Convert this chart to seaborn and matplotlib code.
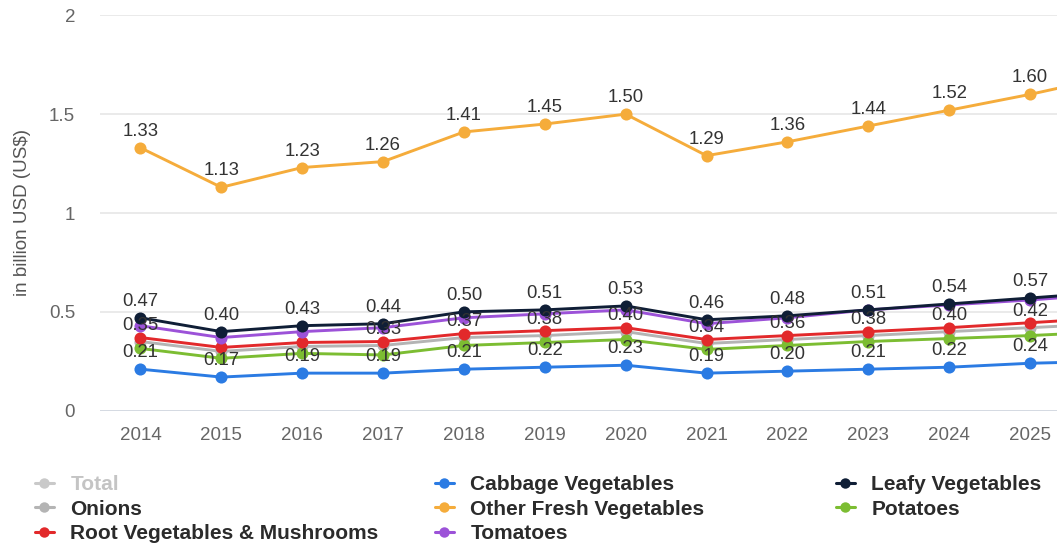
import matplotlib
matplotlib.use("Agg")
import matplotlib.pyplot as plt
import seaborn as sns
import pandas as pd
from matplotlib.lines import Line2D

# ---------------- data ----------------
years = [2014, 2015, 2016, 2017, 2018, 2019, 2020, 2021, 2022, 2023, 2024, 2025, 2026]
other_fresh = [1.33, 1.13, 1.23, 1.26, 1.41, 1.45, 1.50, 1.29, 1.36, 1.44, 1.52, 1.60, 1.69]
leafy = [0.47, 0.40, 0.43, 0.44, 0.50, 0.51, 0.53, 0.46, 0.48, 0.51, 0.54, 0.57, 0.60]
tomatoes = [0.43, 0.37, 0.40, 0.42, 0.47, 0.49, 0.51, 0.44, 0.47, 0.51, 0.535, 0.56, 0.59]
root_mush = [0.37, 0.32, 0.345, 0.35, 0.39, 0.405, 0.42, 0.36, 0.38, 0.40, 0.42, 0.445, 0.47]
onions = [0.35, 0.30, 0.325, 0.33, 0.37, 0.38, 0.40, 0.34, 0.36, 0.38, 0.40, 0.42, 0.44]
potatoes = [0.315, 0.265, 0.29, 0.282, 0.33, 0.345, 0.36, 0.31, 0.33, 0.35, 0.365, 0.38, 0.40]
cabbage = [0.21, 0.17, 0.19, 0.19, 0.21, 0.22, 0.23, 0.19, 0.20, 0.21, 0.22, 0.24, 0.25]

# which years carry a visible value label for Onions
onions_labelled = [True, False, False, True, True, True, True, True, True, True, True, True, True]

series_names = ["Total", "Cabbage Vegetables", "Leafy Vegetables", "Onions",
                "Other Fresh Vegetables", "Potatoes", "Root Vegetables & Mushrooms", "Tomatoes"]
y_ticks = [0, 0.5, 1, 1.5, 2]
y_tick_labels = ["0", "0.5", "1", "1.5", "2"]
y_title = "in billion USD (US$)"

colors = {
    "Total": "#c9c9c9",
    "Cabbage Vegetables": "#2b7be3",
    "Leafy Vegetables": "#0f1e36",
    "Onions": "#b4b4b4",
    "Other Fresh Vegetables": "#f5ac3b",
    "Potatoes": "#7cbd32",
    "Root Vegetables & Mushrooms": "#e2292b",
    "Tomatoes": "#9c52d8",
}

values = {
    "Cabbage Vegetables": cabbage,
    "Leafy Vegetables": leafy,
    "Onions": onions,
    "Other Fresh Vegetables": other_fresh,
    "Potatoes": potatoes,
    "Root Vegetables & Mushrooms": root_mush,
    "Tomatoes": tomatoes,
}

# drawing order (bottom to top)
draw_order = ["Onions", "Potatoes", "Cabbage Vegetables", "Root Vegetables & Mushrooms",
              "Tomatoes", "Leafy Vegetables", "Other Fresh Vegetables"]

labelled = {
    "Other Fresh Vegetables": [True] * len(years),
    "Leafy Vegetables": [True] * len(years),
    "Onions": onions_labelled,
    "Cabbage Vegetables": [True] * len(years),
}

rows = []
for name, vals in values.items():
    for yr, v in zip(years, vals):
        rows.append({"year": yr, "value": v, "series": name})
df = pd.DataFrame(rows)

# ---------------- plot ----------------
sns.set_theme(style="white")
plt.rcParams["font.family"] = ["Liberation Sans", "DejaVu Sans"]

fig = plt.figure(figsize=(10.57, 5.43), dpi=100)
ax = fig.add_axes([100 / 1057, 1 - 410.7 / 543, 1 - 100 / 1057, (410.7 - 15.3) / 543])

for name in draw_order:
    sub = df[df["series"] == name]
    sns.lineplot(data=sub, x="year", y="value", ax=ax, color=colors[name],
                 marker="o", markersize=8.7, markeredgewidth=0, linewidth=2.1,
                 legend=False, zorder=3)

ax.set_xticks(years)
ax.set_xticklabels([str(y) for y in years])
ax.set_yticks(y_ticks)
ax.set_yticklabels(y_tick_labels)
ax.set_xlim(2013.5, 2014 + (1057 - 140.7) / 80.85)
ax.set_ylim(0, 2)

for name, flags in labelled.items():
    for yr, v, f in zip(years, values[name], flags):
        if f:
            ax.annotate(f"{v:.2f}", xy=(yr, v), xytext=(0, 11.8), textcoords="offset points",
                        ha="center", va="center", fontsize=13.3, color="#333333",
                        zorder=5, annotation_clip=True)

ax.tick_params(axis="both", length=0, labelsize=13.5, labelcolor="#666666")
ax.tick_params(axis="y", pad=18)
ax.tick_params(axis="x", pad=12)
ax.set_xlabel("")
ax.set_ylabel(y_title, fontsize=13.5, color="#555555", labelpad=13)
ax.yaxis.grid(True, color="#e4e4e4", linewidth=1.1)
ax.xaxis.grid(False)
for s in ax.spines.values():
    s.set_visible(False)
ax.axhline(0, color="#d3d9e2", linewidth=1.3, zorder=1)

# ---------------- legend (three fixed-width columns) ----------------
def handle(name, ms=7.5):
    return Line2D([], [], color=colors[name], marker="o", markersize=ms,
                  markeredgewidth=0, linewidth=2.2)

columns = [
    (["Total", "Onions", "Root Vegetables & Mushrooms"], 35),
    (["Cabbage Vegetables", "Other Fresh Vegetables", "Tomatoes"], 435),
    (["Leafy Vegetables", "Potatoes"], 836),
]
for names, xpx in columns:
    leg = fig.legend([handle(n) for n in names], names, loc="upper left",
                     bbox_to_anchor=(xpx / 1057, 1 - 475 / 543), frameon=False,
                     borderpad=0, borderaxespad=0, handlelength=0.9,
                     handletextpad=0.8, labelspacing=0.27,
                     prop={"weight": "bold", "size": 15})
    for txt, n in zip(leg.get_texts(), names):
        txt.set_color("#c4c4c4" if n == "Total" else "#2b2b2b")

fig.savefig("out.png", dpi=100)
